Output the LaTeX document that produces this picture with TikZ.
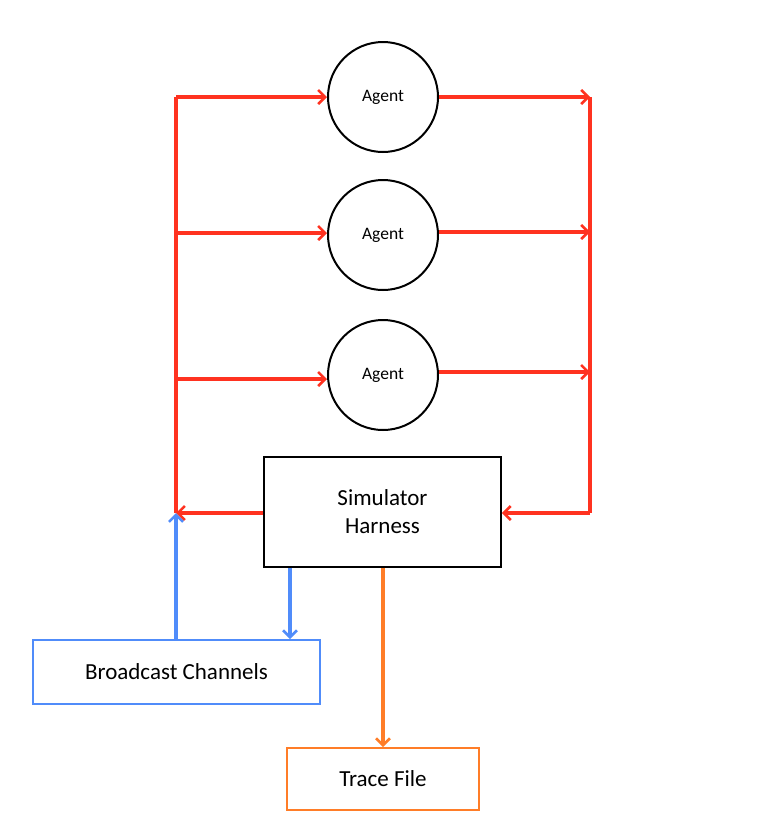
\documentclass[tikz,border=0pt]{standalone}
\usepackage{fontspec}
\setmainfont{Carlito}
\usetikzlibrary{arrows.meta}
\definecolor{cred}{RGB}{255,50,32}
\definecolor{cblue}{RGB}{80,140,250}
\definecolor{corange}{RGB}{255,125,40}
\begin{document}
\begin{tikzpicture}[x=1pt,y=-1pt,
  agent/.style={circle,draw=black,line width=2pt,minimum size=110pt,inner sep=0pt,font=\fontsize{17.5}{20}\selectfont},
  box/.style={draw,rectangle,line width=1.8pt,inner sep=0pt,align=center,font=\fontsize{23}{28}\selectfont},
  tip/.style={-{Straight Barb[length=7pt,width=14pt,line width=2.6pt]}},
  redline/.style={cred,line width=3.2pt},
  blueline/.style={cblue,line width=3.2pt},
  orangeline/.style={corange,line width=3.2pt}]
\useasboundingbox (0,0) rectangle (758,836);
\node[agent] (a1) at (383,97) {Agent};
\node[agent] (a2) at (383,235) {Agent};
\node[agent] (a3) at (383,375) {Agent};
\node[box,draw=black,minimum width=237pt,minimum height=110pt] (sim) at (382.5,512) {Simulator\\Harness};
\node[box,draw=cblue,minimum width=287pt,minimum height=64pt] (bc) at (176.5,672) {Broadcast Channels};
\node[box,draw=corange,minimum width=192pt,minimum height=62pt] (tf) at (383,779) {Trace File};
\coordinate (lt) at (176,97);
\coordinate (l2) at (176,233);
\coordinate (l3) at (176,379);
\coordinate (lb) at (176,513);
\coordinate (rt) at (590,97);
\coordinate (r2) at (590,232);
\coordinate (r3) at (590,372);
\coordinate (rb) at (590,513);
% red feedback network
\draw[redline] (lb) -- (lt);
\draw[redline,tip] (lt) -- (a1.west);
\draw[redline,tip] (l2) -- (a2.west |- l2);
\draw[redline,tip] (l3) -- (a3.west |- l3);
\draw[redline] (rt) -- (rb);
\draw[redline,tip] (a1.east) -- (rt);
\draw[redline,tip] (a2.east |- r2) -- (r2);
\draw[redline,tip] (a3.east |- r3) -- (r3);
\draw[redline,tip] (sim.west |- lb) -- (lb);
\draw[redline,tip] (rb) -- (sim.east |- rb);
% blue
\draw[blueline,tip] (bc.north -| lb) -- (lb);
\draw[blueline,tip] (sim.south -| 290,0) -- (bc.north -| 290,0);
% orange
\draw[orangeline,tip] (sim.south -| tf.north) -- (tf.north);
\end{tikzpicture}
\end{document}
